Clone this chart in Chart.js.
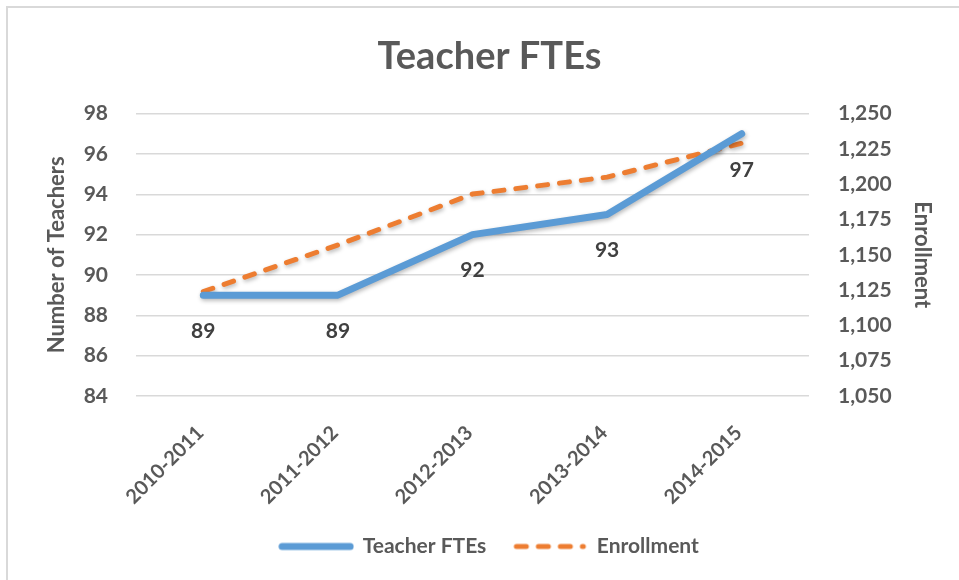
<!DOCTYPE html>
<html>
<head>
<meta charset="utf-8">
<script src="https://cdn.jsdelivr.net/npm/chart.js@4/dist/chart.umd.min.js"></script>
<style>
  html, body { margin: 0; padding: 0; background: #ffffff; }
  #frame { position: absolute; left: 6px; top: 6px; width: 2000px; height: 2000px;
           border-left: 2px solid #d9d9d9; border-top: 2px solid #d9d9d9; }
  #wrap { position: absolute; left: 0; top: 0; width: 959px; height: 580px; }
</style>
</head>
<body>
<div id="frame"></div>
<div id="wrap"><canvas id="c" width="959" height="580"></canvas></div>
<script>
const categories = ["2010-2011", "2011-2012", "2012-2013", "2013-2014", "2014-2015"];
const teacherFTEs = [89, 89, 92, 93, 97];
const enrollment = [1124, 1157, 1193, 1205, 1229];
const leftTicks = { min: 84, max: 98, step: 2 };
const rightTicks = { min: 1050, max: 1250, step: 25 };

const FONT = "Lato, 'Open Sans', sans-serif";
const GREY = "#595959";
const BLUE = '#5B9BD5';
const ORANGE = '#ED7D31';
const DASH = [10, 12];

// small legend glyphs (line samples) drawn to offscreen canvases
function legendLine(color, width, dash) {
  const cv = document.createElement('canvas');
  cv.width = 76; cv.height = 12;
  const g = cv.getContext('2d');
  g.strokeStyle = color;
  g.lineWidth = width;
  g.lineCap = 'round';
  g.setLineDash(dash);
  g.beginPath();
  g.moveTo(4, 6);
  g.lineTo(dash.length ? 71 : 72, 6);
  g.stroke();
  return cv;
}
const legendGlyphs = [legendLine(BLUE, 7, []), legendLine(ORANGE, 5, DASH)];

const shadowPlugin = {
  id: 'lineShadow',
  beforeDatasetDraw(chart) {
    const ctx = chart.ctx;
    ctx.save();
    ctx.shadowColor = 'rgba(0,0,0,0.28)';
    ctx.shadowBlur = 4;
    ctx.shadowOffsetX = 1;
    ctx.shadowOffsetY = 2;
  },
  afterDatasetDraw(chart) {
    chart.ctx.restore();
  }
};

const labelPlugin = {
  id: 'valueLabels',
  afterDatasetsDraw(chart) {
    const ctx = chart.ctx;
    const meta = chart.getDatasetMeta(0);
    const data = chart.data.datasets[0].data;
    ctx.save();
    ctx.font = "bold 21px " + FONT;
    ctx.fillStyle = "#404040";
    ctx.textAlign = 'center';
    ctx.textBaseline = 'middle';
    meta.data.forEach((pt, i) => {
      ctx.fillText(String(data[i]), pt.x, pt.y + 36);
    });
    ctx.restore();
  }
};

new Chart(document.getElementById('c'), {
  type: 'line',
  data: {
    labels: categories,
    datasets: [
      {
        label: 'Teacher FTEs',
        data: teacherFTEs,
        yAxisID: 'y',
        borderColor: BLUE,
        backgroundColor: BLUE,
        borderWidth: 7,
        borderCapStyle: 'round',
        borderJoinStyle: 'round',
        pointRadius: 0,
        tension: 0
      },
      {
        label: 'Enrollment',
        data: enrollment,
        yAxisID: 'y1',
        borderColor: ORANGE,
        backgroundColor: ORANGE,
        borderWidth: 5,
        borderDash: DASH,
        borderCapStyle: 'round',
        borderJoinStyle: 'round',
        pointRadius: 0,
        tension: 0
      }
    ]
  },
  options: {
    responsive: false,
    animation: false,
    layout: { padding: { left: 44, right: 24, top: 0, bottom: 13 } },
    plugins: {
      title: {
        display: true,
        text: 'Teacher FTEs',
        color: GREY,
        font: { family: FONT, size: 38, weight: 'bold' },
        padding: { top: 34, bottom: 34 }
      },
      legend: {
        position: 'bottom',
        labels: {
          usePointStyle: true,
          pointStyleWidth: 72,
          boxHeight: 21,
          padding: 28,
          color: GREY,
          font: { family: FONT, size: 21, weight: 'bold' },
          generateLabels(chart) {
            const items = Chart.defaults.plugins.legend.labels.generateLabels(chart);
            items.forEach(it => { it.pointStyle = legendGlyphs[it.datasetIndex]; });
            return items;
          }
        }
      },
      tooltip: { enabled: false }
    },
    scales: {
      x: {
        offset: true,
        grid: { display: false },
        border: { display: false },
        ticks: {
          color: GREY,
          font: { family: FONT, size: 20, weight: 'bold' },
          minRotation: 45,
          maxRotation: 45,
          padding: 17,
          labelOffset: -3
        },
        afterFit(scale) { scale.height = 112; }
      },
      y: {
        position: 'left',
        min: leftTicks.min,
        max: leftTicks.max,
        ticks: {
          stepSize: leftTicks.step,
          color: GREY,
          padding: 28,
          font: { family: FONT, size: 21, weight: 'bold' }
        },
        grid: { color: '#d9d9d9', lineWidth: 1.5, drawTicks: false },
        border: { display: false },
        title: {
          display: true,
          text: 'Number of Teachers',
          color: GREY,
          padding: 0,
          font: { family: FONT, size: 22, weight: 'bold' }
        },
        afterFit(scale) { scale.width = 92; }
      },
      y1: {
        position: 'right',
        min: rightTicks.min,
        max: rightTicks.max,
        ticks: {
          stepSize: rightTicks.step,
          color: GREY,
          padding: 29,
          font: { family: FONT, size: 21, weight: 'bold' },
          callback: (v) => Number(v).toLocaleString('en-US')
        },
        grid: { display: false, drawTicks: false },
        border: { display: false },
        title: {
          display: true,
          text: 'Enrollment',
          color: GREY,
          padding: 0,
          font: { family: FONT, size: 22, weight: 'bold' }
        },
        afterFit(scale) { scale.width = 126; }
      }
    }
  },
  plugins: [shadowPlugin, labelPlugin]
});
</script>
</body>
</html>
